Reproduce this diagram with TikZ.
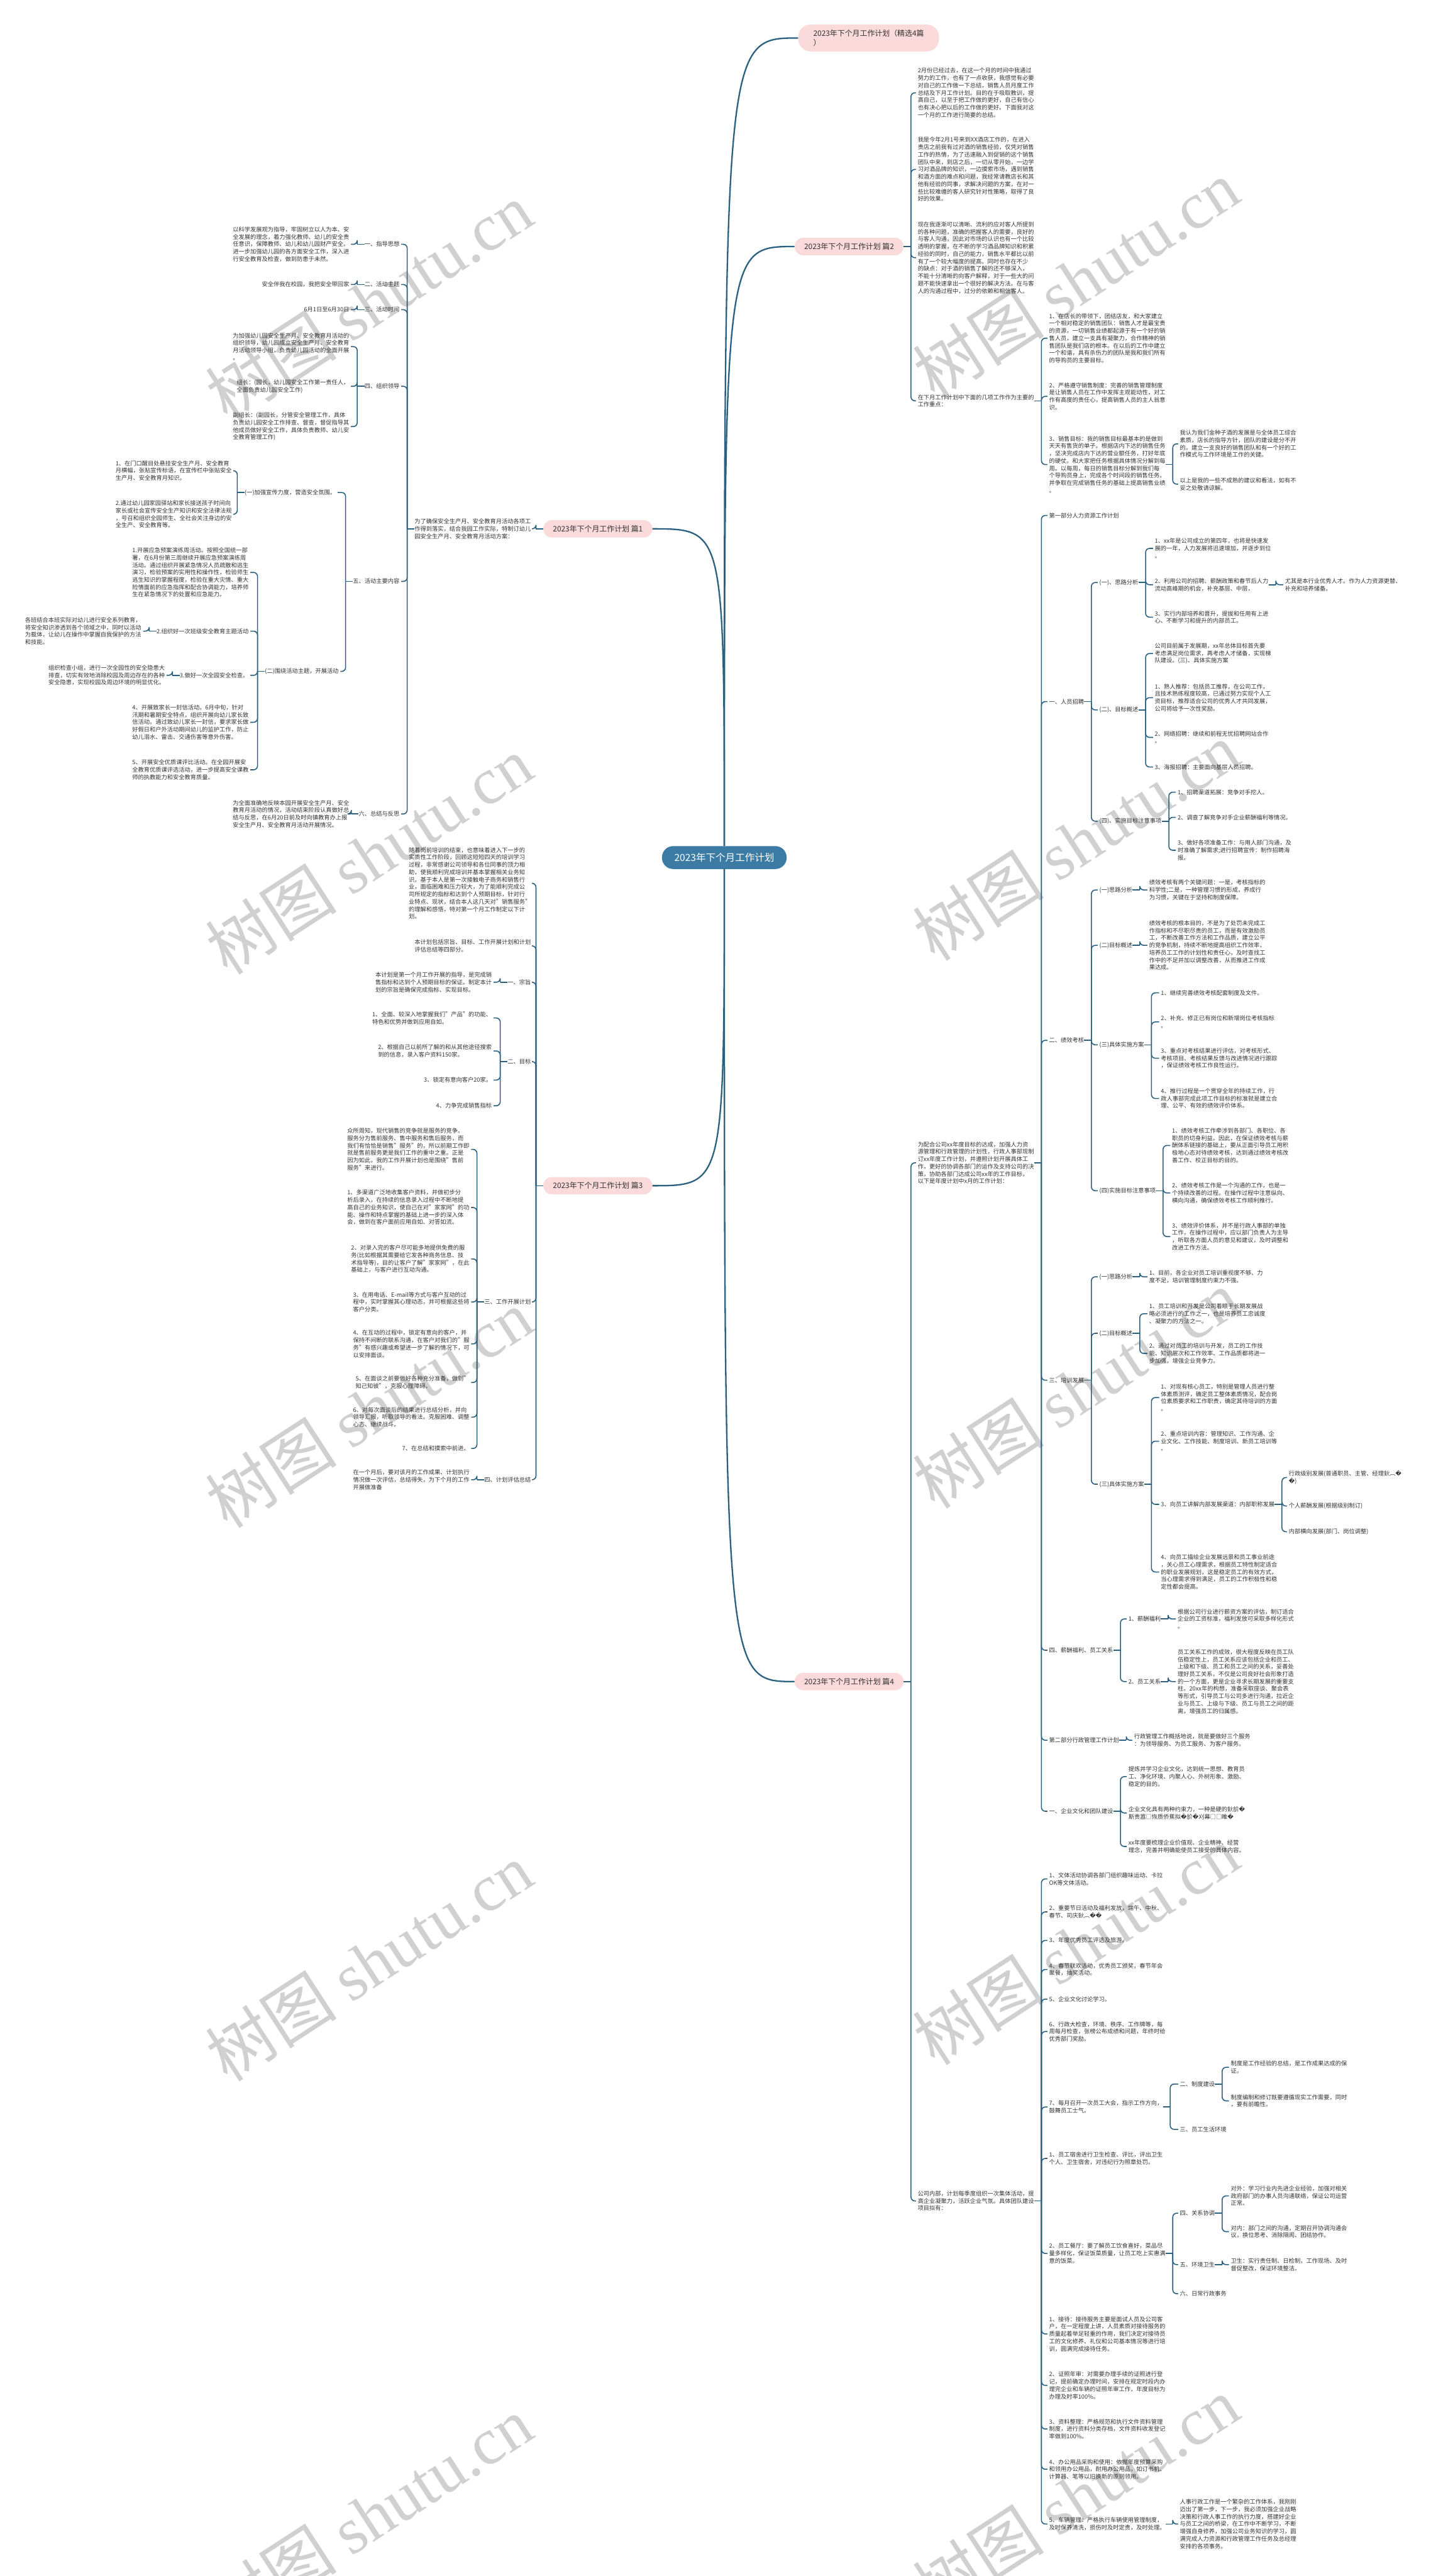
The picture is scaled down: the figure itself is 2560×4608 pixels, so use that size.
\documentclass[tikz,border=0pt]{standalone}
\usepackage{fontspec}
\setmainfont{Noto Sans CJK SC}
\newfontfamily\djv{DejaVu Sans}
\newfontfamily\wmser{Liberation Serif}
\definecolor{lc}{RGB}{42,96,128}
\definecolor{pk}{RGB}{250,218,218}
\definecolor{cb}{RGB}{60,124,164}
\definecolor{tc}{RGB}{51,51,51}
\definecolor{wmc}{RGB}{208,208,208}
\newcommand\fbody{\fontsize{10.4pt}{13.2pt}\selectfont}
\newcommand\fpill{\fontsize{13.4pt}{16pt}\selectfont}
\newcommand\fcent{\fontsize{17.5pt}{21pt}\selectfont}
\newcommand\rep{{\djv\char"FFFD}}
\newcommand\rtree[2]{%
 \coordinate (#1s) at ([xshift=13pt]#1.east);
 \draw[conn] (#1.east) -- (#1s);
 \foreach \ch in {#2}{\draw[conn] (#1s) |- ([xshift=-3pt]\ch.west);}
}
\newcommand\ltree[2]{%
 \coordinate (#1s) at ([xshift=-13pt]#1.west);
 \draw[conn] (#1.west) -- (#1s);
 \foreach \ch in {#2}{\draw[conn] (#1s) |- ([xshift=3pt]\ch.east);}
}
\tikzset{
 conn/.style={draw=lc, line width=1.8pt, rounded corners=7pt},
 mainc/.style={draw=lc, line width=2.6pt},
 txR/.style={inner sep=0pt, align=left, font=\fbody, text=tc, anchor=west},
 txL/.style={inner sep=0pt, align=left, font=\fbody, text=tc, anchor=east},
 pill/.style={fill=pk, rounded corners=15pt, minimum height=31pt, minimum width=195pt, inner xsep=14pt, inner ysep=0pt, font=\fpill, text=tc},
 wm/.style={text=wmc, rotate=33, font=\fontsize{118pt}{118pt}\selectfont, inner sep=0pt},
}
\begin{document}
\begin{tikzpicture}[x=1pt,y=-1pt]
\useasboundingbox (0,0) rectangle (2560,4608);
\fill[white] (0,0) rectangle (2560,4608);
% watermarks
\begin{scope}
\clip (0,0) rectangle (2560,4608);
\foreach \wx/\wy [count=\wi] in {660/540,1925/500,660/1530,1925/1505,660/2520,1925/2485,660/3510,1925/3480,660/4500,1925/4465}
  \node[wm] (wm\wi) at (\wx,\wy) {树图 {\wmser shutu.cn}};
\end{scope}

% center and main nodes
\node[fill=cb, text=white, rounded corners=20pt, minimum width=223pt, minimum height=41pt, inner sep=0pt, font=\fcent] (cen) at (1296,1534) {2023年下个月工作计划};
\node[pill, anchor=west, align=left, minimum height=48pt, minimum width=252pt, inner xsep=23pt, rounded corners=22pt] (t0) at (1428,68) {2023年下个月工作计划（精选4篇\\）};
\node[pill, anchor=east] (b2) at (1617,441) {2023年下个月工作计划 篇2};
\node[pill, anchor=east] (b4) at (1617,3008) {2023年下个月工作计划 篇4};
\node[pill, anchor=west] (b1) at (972,946) {2023年下个月工作计划 篇1};
\node[pill, anchor=west] (b3) at (972,2121) {2023年下个月工作计划 篇3};

\draw[mainc] (cen.north) .. controls (1296,68) .. (t0.west);
\draw[mainc] (cen.north) .. controls (1296,441) .. (b2.west);
\draw[mainc] (cen.north) .. controls (1296,946) .. (b1.east);
\draw[mainc] (cen.south) .. controls (1296,2121) .. (b3.east);
\draw[mainc] (cen.south) .. controls (1296,3008) .. (b4.west);

% ===== 篇2 =====
\node[txR] (p1) at (1642,166) {2月份已经过去，在这一个月的时间中我通过\\努力的工作，也有了一点收获，我感觉有必要\\对自己的工作做一下总结，销售人员月度工作\\总结及下月工作计划。目的在于吸取教训，提\\高自己，以至于把工作做的更好，自己有信心\\也有决心把以后的工作做的更好。下面我对这\\一个月的工作进行简要的总结。};
\node[txR] (p2) at (1642,303) {我是今年2月1号来到XX酒店工作的，在进入\\贵店之前我有过对酒的销售经验，仅凭对销售\\工作的热情，为了迅速融入到促销的这个销售\\团队中来，到店之后，一切从零开始，一边学\\习对酒品牌的知识，一边摸索市场，遇到销售\\和酒方面的难点和问题，我经常请教店长和其\\他有经验的同事，求解决问题的方案，在对一\\些比较难缠的客人研究针对性策略，取得了良\\好的效果。};
\node[txR] (p3) at (1642,461) {现在我逐渐可以清晰、流利的应对客人所提到\\的各种问题，准确的把握客人的需要，良好的\\与客人沟通，因此对市场的认识也有一个比较\\透明的掌握，在不断的学习酒品牌知识和积累\\经验的同时，自己的能力，销售水平都比以前\\有了一个较大幅度的提高。同时也存在不少\\的缺点：对于酒的销售了解的还不够深入，\\不能十分清晰的向客户解释，对于一些大的问\\题不能快速拿出一个很好的解决方法。在与客\\人的沟通过程中，过分的依赖和相信客人。};
\node[txR] (p4) at (1642,717) {在下月工作计划中下面的几项工作作为主要的\\工作重点：};
\node[txR] (c1) at (1877,605) {1、在店长的带领下，团结店友，和大家建立\\一个相对稳定的销售团队：销售人才是最宝贵\\的资源，一切销售业绩都起源于有一个好的销\\售人员，建立一支具有凝聚力，合作精神的销\\售团队是我们店的根本。在以后的工作中建立\\一个和谐，具有杀伤力的团队是我和我们所有\\的导购员的主要目标。};
\node[txR] (c2) at (1877,709) {2、严格遵守销售制度：完善的销售管理制度\\是让销售人员在工作中发挥主观能动性，对工\\作有高度的责任心，提高销售人员的主人翁意\\识。};
\node[txR] (c3) at (1877,831) {3、销售目标：我的销售目标最基本的是做到\\天天有售货的单子。根据店内下达的销售任务\\，坚决完成店内下达的营业额任务，打好年底\\的硬仗。和大家把任务根据具体情况分解到每\\周。以每周，每日的销售目标分解到我们每\\个导购员身上，完成各个时间段的销售任务。\\并争取在完成销售任务的基础上提高销售业绩\\。};
\node[txR] (d1) at (2111,794) {我认为我们金种子酒的发展是与全体员工综合\\素质，店长的指导方针，团队的建设是分不开\\的。建立一支良好的销售团队和有一个好的工\\作模式与工作环境是工作的关键。};
\node[txR] (d2) at (2111,866) {以上是我的一些不成熟的建议和看法，如有不\\妥之处敬请谅解。};
\rtree{b2}{p1,p2,p3,p4}
\rtree{p4}{c1,c2,c3}
\rtree{c3}{d1,d2}

% ===== 篇4 =====
\node[txR] (q1) at (1642,2080) {为配合公司xx年度目标的达成，加强人力资\\源管理和行政管理的计划性，行政人事部现制\\订xx年度工作计划，并遵照计划开展具体工\\作，更好的协调各部门的运作及支持公司的决\\策，协助各部门达成公司xx年的工作目标，\\以下是年度计划中x月的工作计划：};
\node[txR] (q2) at (1642,3937) {公司内部，计划每季度组织一次集体活动，提\\高企业凝聚力，活跃企业气氛。具体团队建设\\项目拟有：};
\rtree{b4}{q1,q2}

\node[txR] (a1) at (1877,922) {第一部分人力资源工作计划};
\node[txR] (a2) at (1877,1255) {一、人员招聘};
\node[txR] (a3) at (1877,1861) {二、绩效考核};
\node[txR] (a4) at (1877,2469) {三、培训发展};
\node[txR] (a5) at (1877,2952) {四、薪酬福利、员工关系};
\node[txR] (a6) at (1877,3113) {第二部分行政管理工作计划};
\node[txR] (a7) at (1877,3240) {一、企业文化和团队建设};
\rtree{q1}{a1,a2,a3,a4,a5,a6,a7}

% 一、人员招聘
\node[txR] (a2a) at (1967,1042) {(一)、思路分析};
\node[txR] (a2b) at (1967,1270) {(二)、目标概述};
\node[txR] (a2c) at (1967,1469) {(四)、实施目标注意事项};
\rtree{a2}{a2a,a2b,a2c}
\node[txR] (a2a1) at (2066,981) {1、xx年是公司成立的第四年，也将是快速发\\展的一年，人力发展将迅速增加，并逐步到位\\。};
\node[txR] (a2a2) at (2066,1046) {2、利用公司的招聘、薪酬政策和春节后人力\\流动高峰期的机会，补充基层、中层，};
\node[txR] (a2a3) at (2066,1104) {3、实行内部培养和晋升，提拔和任用有上进\\心、不断学习和提升的内部员工。};
\node[txR] (a2a2x) at (2299,1046) {尤其是本行业优秀人才。作为人力资源更替、\\补充和培养储备。};
\rtree{a2a}{a2a1,a2a2,a2a3}
\rtree{a2a2}{a2a2x}
\node[txR] (a2b1) at (2066,1169) {公司目前属于发展期，xx年总体目标首先要\\考虑满足岗位需求，再考虑人才储备，实现梯\\队建设。(三)、具体实施方案};
\node[txR] (a2b2) at (2066,1248) {1、熟人推荐：包括员工推荐，在公司工作，\\且技术熟练程度较高，已通过努力实现个人工\\资目标，推荐适合公司的优秀人才共同发展，\\公司将给予一次性奖励。};
\node[txR] (a2b3) at (2066,1319) {2、网络招聘：继续和前程无忧招聘网站合作\\。};
\node[txR] (a2b4) at (2066,1372) {3、海报招聘：主要面向基层人员招聘。};
\rtree{a2b}{a2b1,a2b2,a2b3,a2b4}
\node[txR] (a2c1) at (2107,1417) {1、招聘渠道拓展：竞争对手挖人。};
\node[txR] (a2c2) at (2107,1462) {2、调查了解竞争对手企业薪酬福利等情况。};
\node[txR] (a2c3) at (2107,1521) {3、做好各项准备工作：与用人部门沟通，及\\时准确了解需求;进行招聘宣传：制作招聘海\\报。};
\rtree{a2c}{a2c1,a2c2,a2c3}

% 二、绩效考核
\node[txR] (a3a) at (1967,1592) {(一)思路分析};
\node[txR] (a3b) at (1967,1691) {(二)目标概述};
\node[txR] (a3c) at (1967,1869) {(三)具体实施方案};
\node[txR] (a3d) at (1967,2130) {(四)实施目标注意事项};
\rtree{a3}{a3a,a3b,a3c,a3d}
\node[txR] (a3a1) at (2056,1592) {绩效考核有两个关键问题：一是，考核指标的\\科学性;二是，一种管理习惯的形成，养成行\\为习惯，关键在于坚持和制度保障。};
\rtree{a3a}{a3a1}
\node[txR] (a3b1) at (2056,1691) {绩效考核的根本目的，不是为了处罚未完成工\\作指标和不尽职尽责的员工，而是有效激励员\\工，不断改善工作方法和工作品质，建立公平\\的竞争机制，持续不断地提高组织工作效率，\\培养员工工作的计划性和责任心，及时查找工\\作中的不足并加以调整改善，从而推进工作成\\果达成。};
\rtree{a3b}{a3b1}
\node[txR] (a3c1) at (2077,1776) {1、继续完善绩效考核配套制度及文件。};
\node[txR] (a3c2) at (2077,1828) {2、补充、修正已有岗位和新增岗位考核指标\\。};
\node[txR] (a3c3) at (2077,1893) {3、重点对考核结果进行评估，对考核形式、\\考核项目、考核结果反馈与改进情况进行跟踪\\，保证绩效考核工作良性运行。};
\node[txR] (a3c4) at (2077,1965) {4、推行过程是一个贯穿全年的持续工作，行\\政人事部完成此项工作目标的标准就是建立合\\理、公平、有效的绩效评价体系。};
\rtree{a3c}{a3c1,a3c2,a3c3,a3c4}
\node[txR] (a3d1) at (2097,2049) {1、绩效考核工作牵涉到各部门、各职位、各\\职员的切身利益。因此，在保证绩效考核与薪\\酬体系链接的基础上，要从正面引导员工用积\\极地心态对待绩效考核，达到通过绩效考核改\\善工作、校正目标的目的。};
\node[txR] (a3d2) at (2097,2134) {2、绩效考核工作是一个沟通的工作，也是一\\个持续改善的过程。在操作过程中注意纵向、\\横向沟通，确保绩效考核工作顺利推行。};
\node[txR] (a3d3) at (2097,2212) {3、绩效评价体系，并不是行政人事部的单独\\工作，在操作过程中，应以部门负责人为主导\\，听取各方面人员的意见和建议，及时调整和\\改进工作方法。};
\rtree{a3d}{a3d1,a3d2,a3d3}

% 三、培训发展
\node[txR] (a4a) at (1967,2284) {(一)思路分析};
\node[txR] (a4b) at (1967,2385) {(二)目标概述};
\node[txR] (a4c) at (1967,2655) {(三)具体实施方案};
\rtree{a4}{a4a,a4b,a4c}
\node[txR] (a4a1) at (2056,2284) {1、目前，各企业对员工培训重视度不够、力\\度不足，培训管理制度约束力不强。};
\rtree{a4a}{a4a1}
\node[txR] (a4b1) at (2056,2350) {1、员工培训和开发是公司着眼于长期发展战\\略必须进行的工作之一，也是培养员工忠诚度\\、凝聚力的方法之一。};
\node[txR] (a4b2) at (2056,2421) {2、通过对员工的培训与开发，员工的工作技\\能、知识层次和工作效率、工作品质都将进一\\步加强，增强企业竞争力。};
\rtree{a4b}{a4b1,a4b2}
\node[txR] (a4c1) at (2077,2500) {1、对现有核心员工，特别是管理人员进行整\\体素质测评，确定员工整体素质情况，配合岗\\位素质要求和工作职责，确定其待培训的方面\\。};
\node[txR] (a4c2) at (2077,2578) {2、重点培训内容：管理知识、工作沟通、企\\业文化、工作技能、制度培训、新员工培训等\\。};
\node[txR] (a4c3) at (2077,2691) {3、向员工讲解内部发展渠道：内部职称发展};
\node[txR] (a4c4) at (2077,2812) {4、向员工描绘企业发展远景和员工事业前途\\，关心员工心理需求，根据员工特性制定适合\\的职业发展规划，这是稳定员工的有效方式，\\当心理需求得到满足，员工的工作积极性和稳\\定性都会提高。};
\rtree{a4c}{a4c1,a4c2,a4c3,a4c4}
\node[txR] (a4c3a) at (2306,2643) {行政级别发展(普通职员、主管、经理鈥︹\rep\\\rep)};
\node[txR] (a4c3b) at (2306,2694) {个人薪酬发展(根据级别制订)};
\node[txR] (a4c3c) at (2306,2740) {内部横向发展(部门、岗位调整)};
\rtree{a4c3}{a4c3a,a4c3b,a4c3c}

% 四、薪酬福利
\node[txR] (a5a) at (2019,2896) {1、薪酬福利};
\node[txR] (a5b) at (2019,3008) {2、员工关系};
\rtree{a5}{a5a,a5b}
\node[txR] (a5a1) at (2107,2896) {根据公司行业进行薪资方案的评估，制订适合\\企业的工资标准，福利发放可采取多样化形式\\。};
\rtree{a5a}{a5a1}
\node[txR] (a5b1) at (2107,3008) {员工关系工作的成效，很大程度反映在员工队\\伍稳定性上，员工关系应该包括企业和员工、\\上级和下级、员工和员工之间的关系，妥善处\\理好员工关系，不仅是公司良好社会形象打造\\的一个方面，更是企业寻求长期发展的重要支\\柱。20xx年的构想，准备采取座谈、聚会表\\等形式，引导员工与公司多进行沟通，拉近企\\业与员工、上级与下级、员工与员工之间的距\\离，增强员工的归属感。};
\rtree{a5b}{a5b1}
\node[txR] (a61) at (2029,3113) {行政管理工作概括地说，就是要做好三个服务\\：为领导服务、为员工服务、为客户服务。};
\rtree{a6}{a61}
\node[txR] (a71) at (2019,3178) {提炼并学习企业文化，达到统一思想、教育员\\工、净化环境、内聚人心、外树形象、激励、\\稳定的目的。};
\node[txR] (a72) at (2019,3243) {企业文化具有两种约束力，一种是硬的鈥斺\rep\\斯贵嚣□恢质侨蕉拟\rep 斺\rep 刈幕□□睢\rep};
\node[txR] (a73) at (2019,3303) {xx年度要梳理企业价值观、企业精神、经营\\理念，完善并明确能使员工接受的具体内容。};
\rtree{a7}{a71,a72,a73}

% Q2 children
\node[txR] (r1) at (1877,3361) {1、文体活动协调各部门组织趣味运动、卡拉\\OK等文体活动。};
\node[txR] (r2) at (1877,3420) {2、重要节日活动及福利发放，端午、中秋、\\春节、司庆鈥︹\rep\rep};
\node[txR] (r3) at (1877,3471) {3、年度优秀员工评选及旅游。};
\node[txR] (r4) at (1877,3523) {4、春节联欢活动，优秀员工颁奖，春节年会\\聚餐，抽奖活动。};
\node[txR] (r5) at (1877,3576) {5、企业文化讨论学习。};
\node[txR] (r6) at (1877,3634) {6、行政大检查，环境、秩序、工作牌等，每\\周每月检查，张榜公布成绩和问题，年终时给\\优秀部门奖励。};
\node[txR] (r7) at (1877,3769) {7、每月召开一次员工大会，指示工作方向，\\鼓舞员工士气。};
\node[txR] (r8) at (1877,3861) {1、员工宿舍进行卫生检查、评比，评出卫生\\个人、卫生宿舍，对违纪行为照章处罚。};
\node[txR] (r9) at (1877,4031) {2、员工餐厅：要了解员工饮食喜好，菜品尽\\量多样化，保证饭菜质量，让员工吃上实惠满\\意的饭菜。};
\node[txR] (r10) at (1877,4175) {1、接待：接待服务主要是面试人员及公司客\\户，在一定程度上讲，人员素质对接待服务的\\质量起着举足轻重的作用，我们决定对接待员\\工的文化修养、礼仪和公司基本情况等进行培\\训，圆满完成接待任务。};
\node[txR] (r11) at (1877,4267) {2、证照年审：对需要办理手续的证照进行登\\记，提前确定办理时间，安排在规定时段内办\\理完企业和车辆的证照年审工作，年度目标为\\办理及时率100\%。};
\node[txR] (r12) at (1877,4345) {3、资料整理：严格规范和执行文件资料管理\\制度，进行资料分类存档，文件资料收发登记\\率做到100\%。};
\node[txR] (r13) at (1877,4417) {4、办公用品采购和使用：依据年度预算采购\\和领用办公用品，耐用办公用品，如订书机、\\计算器、笔等以旧换新的原则领用。};
\node[txR] (r14) at (1877,4515) {5、车辆管理：严格执行车辆使用管理制度，\\及时保养清洗，损伤时及时定责，及时处理。};
\rtree{q2}{r1,r2,r3,r4,r5,r6,r7,r8,r9,r10,r11,r12,r13,r14}
\node[txR] (r7a) at (2111,3728) {二、制度建设};
\node[txR] (r7b) at (2111,3809) {三、员工生活环境};
\rtree{r7}{r7a,r7b}
\node[txR] (r7a1) at (2202,3698) {制度是工作经验的总结，是工作成果达成的保\\证。};
\node[txR] (r7a2) at (2202,3758) {制度编制和修订既要遵循现实工作需要，同时\\，要有前瞻性。};
\rtree{r7a}{r7a1,r7a2}
\node[txR] (r9a) at (2111,3959) {四、关系协调};
\node[txR] (r9b) at (2111,4051) {五、环境卫生};
\node[txR] (r9c) at (2111,4103) {六、日常行政事务};
\rtree{r9}{r9a,r9b,r9c}
\node[txR] (r9a1) at (2202,3928) {对外：学习行业内先进企业经验，加强对相关\\政府部门的办事人员沟通联络，保证公司运营\\正常。};
\node[txR] (r9a2) at (2202,3992) {对内：部门之间的沟通，定期召开协调沟通会\\议，换位思考、消除隔阂、团结协作。};
\rtree{r9a}{r9a1,r9a2}
\node[txR] (r9b1) at (2202,4051) {卫生：实行责任制、日检制，工作现场、及时\\督促整改，保证环境整洁。};
\rtree{r9b}{r9b1}
\node[txR] (r14a) at (2111,4515) {人事行政工作是一个繁杂的工作体系，我刚刚\\迈出了第一步，下一步，我必须加强企业战略\\决策和行政人事工作的执行力度，搭建好企业\\与员工之间的桥梁，在工作中不断学习，不断\\增强自身修养，加强公司业务知识的学习，圆\\满完成人力资源和行政管理工作任务及总经理\\安排的各项事务。};
\rtree{r14}{r14a}

% ===== 篇1 =====
\node[txL] (l0) at (950,946) {为了确保安全生产月、安全教育月活动各项工\\作得到落实，结合我园工作实际，特制订幼儿\\园安全生产月、安全教育月活动方案：};
\ltree{b1}{l0}
\node[txL] (l1) at (715,437) {一、指导思想};
\node[txL] (l2) at (715,509) {二、活动主题};
\node[txL] (l3) at (715,554) {三、活动时间};
\node[txL] (l4) at (715,691) {四、组织领导};
\node[txL] (l5) at (715,1040) {五、活动主要内容};
\node[txL] (l6) at (715,1456) {六、总结与反思};
\ltree{l0}{l1,l2,l3,l4,l5,l6}
\node[txL] (l1a) at (625,437) {以科学发展观为指导，牢固树立以人为本、安\\全发展的理念，着力强化教师、幼儿的安全责\\任意识，保障教师、幼儿和幼儿园财产安全。\\进一步加强幼儿园的各方面安全工作，深入进\\行安全教育及检查，做到防患于未然。};
\ltree{l1}{l1a}
\node[txL] (l2a) at (625,509) {安全伴我在校园，我把安全带回家};
\ltree{l2}{l2a}
\node[txL] (l3a) at (625,554) {6月1日至6月30日};
\ltree{l3}{l3a}
\node[txL] (l4a) at (625,620) {为加强幼儿园安全生产月、安全教育月活动的\\组织领导，幼儿园成立安全生产月、安全教育\\月活动领导小组，负责幼儿园活动的全面开展\\。};
\node[txL] (l4b) at (625,691) {组长：(园长，幼儿园安全工作第一责任人，\\全面负责幼儿园安全工作)};
\node[txL] (l4c) at (625,763) {副组长：(副园长，分管安全管理工作，具体\\负责幼儿园安全工作排查、督查，督促指导其\\他成员做好安全工作，具体负责教师、幼儿安\\全教育管理工作)};
\ltree{l4}{l4a,l4b,l4c}
\node[txL] (l5a) at (601,881) {(一)加强宣传力度，营造安全氛围。};
\node[txL] (l5b) at (606,1201) {(二)围绕活动主题，开展活动};
\ltree{l5}{l5a,l5b}
\node[txL] (l5a1) at (415,842) {1、在门口醒目处悬挂安全生产月、安全教育\\月横幅，张贴宣传标语，在宣传栏中张贴安全\\生产月、安全教育月知识。};
\node[txL] (l5a2) at (415,920) {2.通过幼儿园家园驿站和家长接送孩子时间向\\家长或社会宣传安全生产知识和安全法律法规\\，号召和组织全园师生、全社会关注身边的安\\全生产、安全教育等。};
\ltree{l5a}{l5a1,l5a2}
\node[txL] (l5b1) at (445,1024) {1.开展应急预案演练周活动。按照全国统一部\\署，在6月份第三周继续开展应急预案演练周\\活动。通过组织开展紧急情况人员疏散和逃生\\演习，检验预案的实用性和操作性，检验师生\\逃生知识的掌握程度，检验在重大灾情、重大\\险情面前的应急指挥和配合协调能力，培养师\\生在紧急情况下的处置和应急能力。};
\node[txL] (l5b2) at (445,1129) {2.组织好一次班级安全教育主题活动};
\node[txL] (l5b3) at (445,1208) {3.做好一次全园安全检查。};
\node[txL] (l5b4) at (445,1292) {4、开展致家长一封信活动。6月中旬，针对\\汛期和暑期安全特点，组织开展向幼儿家长致\\信活动。通过致幼儿家长一封信，要求家长做\\好假日和户外活动期间幼儿的监护工作，防止\\幼儿溺水、雷击、交通伤害等意外伤害。};
\node[txL] (l5b5) at (445,1377) {5、开展安全优质课评比活动。在全园开展安\\全教育优质课评选活动，进一步提高安全课教\\师的执教能力和安全教育质量。};
\ltree{l5b}{l5b1,l5b2,l5b3,l5b4,l5b5}
\node[txL] (l5b2a) at (253,1129) {各班结合本班实际对幼儿进行安全系列教育，\\将安全知识渗透到各个领域之中，同时以活动\\为载体，让幼儿在操作中掌握自我保护的方法\\和技能。};
\ltree{l5b2}{l5b2a}
\node[txL] (l5b3a) at (295,1208) {组织检查小组，进行一次全园性的安全隐患大\\排查，切实有效地消除校园及周边存在的各种\\安全隐患，实现校园及周边环境的明显优化。};
\ltree{l5b3}{l5b3a}
\node[txL] (l6a) at (625,1456) {为全面准确地反映本园开展安全生产月、安全\\教育月活动的情况，活动结束阶段认真做好总\\结与反思，在6月20日前及时向镇教育办上报\\安全生产月、安全教育月活动开展情况。};
\ltree{l6}{l6a}

% ===== 篇3 =====
\node[txL] (m1) at (950,1580) {随着岗前培训的结束，也意味着进入下一步的\\实质性工作阶段，回顾这短短四天的培训学习\\过程，非常感谢公司领导和各位同事的顶力相\\助，使我顺利完成培训并基本掌握相关业务知\\识。基于本人是第一次接触电子商务和销售行\\业，面临困难和压力较大，为了能顺利完成公\\司所规定的指标和达到个人预期目标，针对行\\业特点、现状，结合本人这几天对"销售服务"\\的理解和感悟，特对第一个月工作制定以下计\\划。};
\node[txL] (m2) at (950,1692) {本计划包括宗旨、目标、工作开展计划和计划\\评估总结等四部分。};
\node[txL] (m3) at (950,1757) {一、宗旨};
\node[txL] (m4) at (950,1899) {二、目标};
\node[txL] (m5) at (950,2329) {三、工作开展计划};
\node[txL] (m6) at (950,2647) {四、计划评估总结};
\ltree{b3}{m1,m2,m3,m4,m5,m6}
\node[txL] (m3a) at (880,1757) {本计划是第一个月工作开展的指导，是完成销\\售指标和达到个人预期目标的保证。制定本计\\划的宗旨是确保完成指标、实现目标。};
\ltree{m3}{m3a}
\node[txL] (m4a) at (880,1821) {1、全面、较深入地掌握我们"产品"的功能、\\特色和优势并做到应用自如。};
\node[txL] (m4b) at (880,1880) {2、根据自己以前所了解的和从其他途径搜索\\到的信息，录入客户资料150家。};
\node[txL] (m4c) at (880,1932) {3、锁定有意向客户20家。};
\node[txL] (m4d) at (880,1978) {4、力争完成销售指标};
\ltree{m4}{m4a,m4b,m4c,m4d}
\node[txL] (m5a) at (840,2056) {众所周知，现代销售的竞争就是服务的竞争。\\服务分为售前服务、售中服务和售后服务，而\\我们有恰恰是销售"服务"的，所以前期工作即\\就是售前服务更是我们工作的重中之重。正是\\因为如此，我的工作开展计划也是围绕"售前\\服务"来进行。};
\node[txL] (m5b) at (840,2160) {1、多渠道广泛地收集客户资料，并做初步分\\析后录入，在持续的信息录入过程中不断地提\\高自己的业务知识，使自己在对"家家网"的功\\能、操作和特点掌握的基础上进一步的深入体\\会，做到在客户面前应用自如、对答如流。};
\node[txL] (m5c) at (840,2252) {2、对录入完的客户尽可能多地提供免费的服\\务(比如根据其需要给它发各种商务信息、技\\术指导等)，目的让客户了解"家家网"，在此\\基础上，与客户进行互动沟通。};
\node[txL] (m5d) at (840,2329) {3、在用电话、E-mail等方式与客户互动的过\\程中，实时掌握其心理动态，并可根据这些将\\客户分类。};
\node[txL] (m5e) at (840,2404) {4、在互动的过程中，锁定有意向的客户，并\\保持不间断的联系沟通，在客户对我们的"服\\务"有感兴趣或希望进一步了解的情况下，可\\以安排面谈。};
\node[txL] (m5f) at (840,2473) {5、在面谈之前要做好各种充分准备，做到"\\知己知彼"，克服心理障碍。};
\node[txL] (m5g) at (840,2535) {6、对每次面谈后的结果进行总结分析，并向\\领导汇报，听取领导的看法。克服困难、调整\\心态、继续战斗。};
\node[txL] (m5h) at (840,2591) {7、在总结和摸索中前进。};
\ltree{m5}{m5a,m5b,m5c,m5d,m5e,m5f,m5g,m5h}
\node[txL] (m6a) at (840,2647) {在一个月后，要对该月的工作成果、计划执行\\情况做一次评估，总结得失，为下个月的工作\\开展做准备};
\ltree{m6}{m6a}
\end{tikzpicture}
\end{document}
